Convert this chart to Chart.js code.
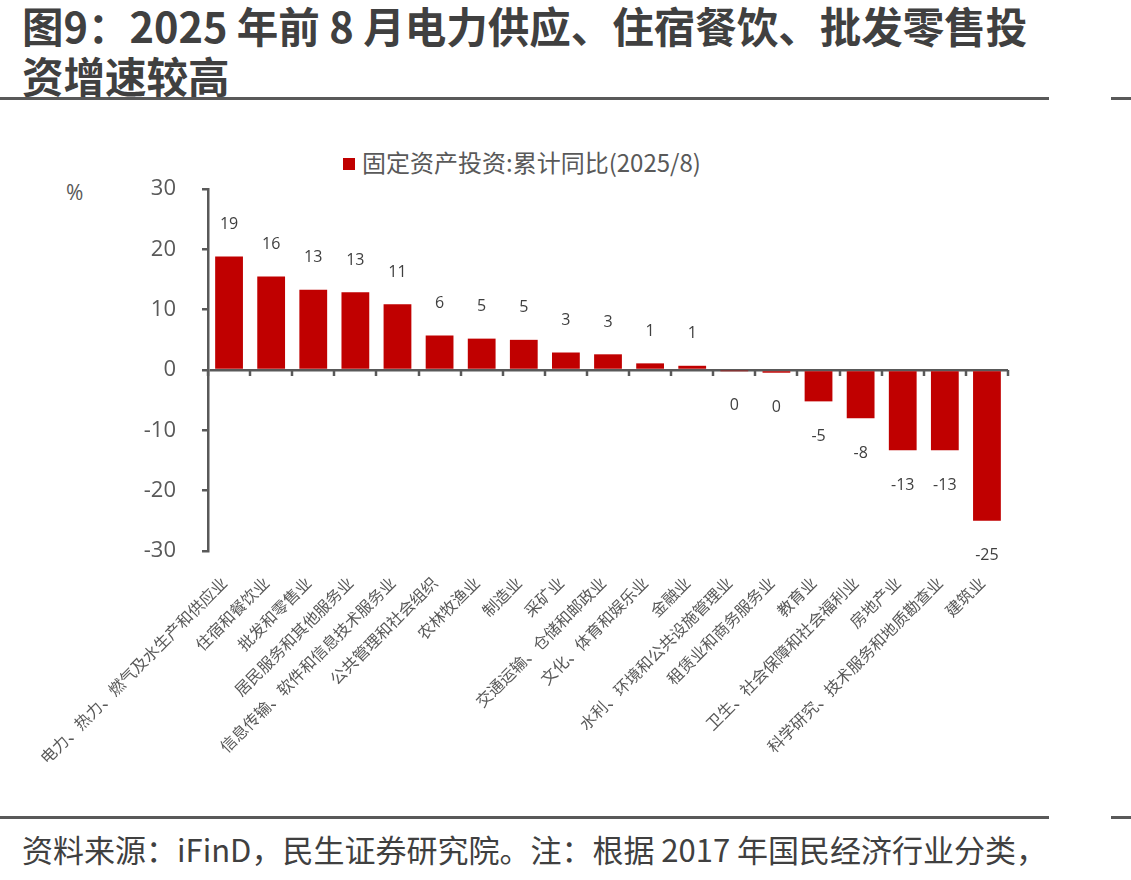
<!DOCTYPE html>
<html lang="zh-CN">
<head>
<meta charset="UTF-8" />
<title>图9</title>
<style>
   body { margin: 0; background: #fff; width: 1131px; height: 880px; position: relative; overflow: hidden;
          font-family: "Noto Sans CJK SC", "Noto Sans", sans-serif; color: #404040; }
   .title { position: absolute; left: 22px; top: 0px; font-size: 41.5px; font-weight: bold; line-height: 50px; color: #404040; }
   .rule { position: absolute; height: 3px; background: #595959; }
   .legend { position: absolute; left: 343px; top: 144px; font-size: 24px; color: #595959; white-space: nowrap; }
   .legend span { display: inline-block; width: 12px; height: 12px; background: #C00000; margin-right: 7px; vertical-align: 2px; }
   .unit { position: absolute; left: 66px; top: 178px; font-size: 21px; color: #595959; font-family: "Open Sans", sans-serif; }
   .note { position: absolute; left: 22px; top: 826px; font-size: 31px; color: #404040; white-space: nowrap; }
   #wrap { position: absolute; left: 0; top: 110px; width: 1131px; height: 700px; }
</style>
</head>
<body>
<div class="title">图9：2025 年前 8 月电力供应、住宿餐饮、批发零售投<br>资增速较高</div>
<div class="rule" style="left:0; top:97px; width:1049px;"></div>
<div class="rule" style="left:1111px; top:97px; width:20px;"></div>
<div class="legend"><span></span>固定资产投资:累计同比(2025/8)</div>
<div class="unit">%</div>
<div id="wrap"><canvas id="chart_bar"></canvas></div>
<div class="rule" style="left:0; top:816px; width:1049px;"></div>
<div class="rule" style="left:1111px; top:816px; width:20px;"></div>
<div class="note">资料来源：iFinD，民生证券研究院。注：根据 2017 年国民经济行业分类，</div>

<script src="https://cdn.jsdelivr.net/npm/chart.js"></script>
<script>
   // categorias (setores)
   const setores = [
      "电力、热力、燃气及水生产和供应业",
      "住宿和餐饮业",
      "批发和零售业",
      "居民服务和其他服务业",
      "信息传输、软件和信息技术服务业",
      "公共管理和社会组织",
      "农林牧渔业",
      "制造业",
      "采矿业",
      "交通运输、仓储和邮政业",
      "文化、体育和娱乐业",
      "金融业",
      "水利、环境和公共设施管理业",
      "租赁业和商务服务业",
      "教育业",
      "卫生、社会保障和社会福利业",
      "房地产业",
      "科学研究、技术服务和地质勘查业",
      "建筑业",
   ];

   // valores
   const valores = [18.8, 15.5, 13.3, 12.9, 10.9, 5.7, 5.2, 5.0, 2.9, 2.6, 1.1, 0.7, -0.1, -0.45, -5.2, -8.0, -13.3, -13.3, -25.0];

   const nome_serie = "固定资产投资:累计同比(2025/8)";
   const y_min = -30;
   const y_max = 30;
   const y_passo = 10;

   const cor_barra = "#C00000";
   const cor_eixo = "#595959";
   const fonte = "'Open Sans', 'Noto Sans CJK SC', sans-serif";

   // rótulos de valor acima/abaixo das barras
   const plugin_rotulos = {
      id: "rotulos",
      afterDatasetsDraw(chart) {
         const ctx = chart.ctx;
         const meta = chart.getDatasetMeta(0);
         ctx.save();
         ctx.font = "16px " + fonte;
         ctx.fillStyle = "#404040";
         ctx.textAlign = "center";
         ctx.textBaseline = "middle";
         meta.data.forEach((barra, i) => {
            const v = valores[i];
            const y = v >= 0 ? barra.y - 32 : barra.y + 35;
            ctx.fillText(String(Math.round(v)), barra.x, y);
         });
         ctx.restore();
      },
   };

   // marcas do eixo x na linha do zero
   const plugin_marcas = {
      id: "marcas",
      afterDraw(chart) {
         const ctx = chart.ctx;
         const x = chart.scales.x;
         const y0 = chart.scales.y.getPixelForValue(0);
         ctx.save();
         ctx.strokeStyle = cor_eixo;
         ctx.lineWidth = 2.5;
         for (let i = 0; i <= setores.length; i++) {
            const px = Math.round(x.getPixelForValue(i - 0.5));
            ctx.beginPath();
            ctx.moveTo(px, y0);
            ctx.lineTo(px, y0 + 6);
            ctx.stroke();
         }
         ctx.restore();
      },
   };

   const data_bar = {
      labels: setores,
      datasets: [
         {
            label: nome_serie,
            data: valores,
            backgroundColor: cor_barra,
            borderWidth: 0,
            barPercentage: 0.66,
            categoryPercentage: 1,
         },
      ],
   };

   const config_bar = {
      type: "bar",
      data: data_bar,
      options: {
         responsive: true,
         maintainAspectRatio: false,
         animation: false,
         layout: { padding: { top: 79, right: 123, left: 0, bottom: 0 } },
         plugins: {
            legend: { display: false },
            tooltip: { enabled: false },
         },
         scales: {
            x: {
               grid: { display: false },
               border: { display: false },
               ticks: {
                  autoSkip: false,
                  maxRotation: 45,
                  minRotation: 45,
                  padding: 14,
                  labelOffset: -5,
                  color: cor_eixo,
                  font: { size: 16, family: "'Noto Sans CJK SC', sans-serif" },
               },
               afterFit(scale) { scale.height = 259; },
            },
            y: {
               min: y_min,
               max: y_max,
               ticks: {
                  stepSize: y_passo,
                  padding: 26,
                  color: cor_eixo,
                  font: { size: 22, family: fonte },
               },
               grid: {
                  color: (c) => (c.tick && c.tick.value === 0 ? cor_eixo : "rgba(0,0,0,0)"),
                  lineWidth: 2.5,
                  tickColor: cor_eixo,
                  tickLength: 6,
               },
               border: { display: true, color: cor_eixo, width: 2.5 },
               afterFit(scale) { scale.width = 208; },
            },
         },
      },
      plugins: [plugin_rotulos, plugin_marcas],
   };

   const grafico_barra = new Chart(document.getElementById("chart_bar"), config_bar);
</script>
</body>
</html>
